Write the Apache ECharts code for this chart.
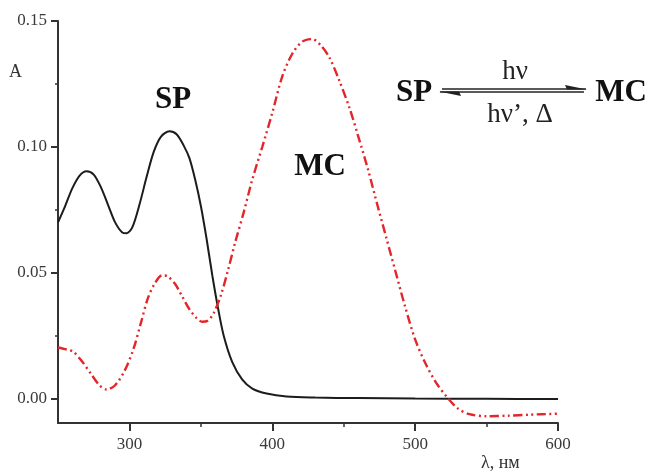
<!DOCTYPE html>
<html>
	<head>
		<meta charset="utf-8">
		<title>SP / MC spectra</title>
		<style>
			html,body{margin:0;padding:0;background:#fff;}
			#chart{width:651px;height:473px;}
		</style>
	</head>
	<body>
		<div id="chart"></div>
		<script src="https://cdn.jsdelivr.net/npm/echarts@6.0.0/dist/echarts.min.js" type="text/javascript" charset="utf-8"></script>
		<script type="text/javascript">
			// SP (black, solid)
			var spWave = [250,255,260,265,270,275,280,285,290,295,298,302,307,312,317,322,328,333,338,342,346,350,354,358,362,366,372,379,386,396,410,430,460,500,550,600];
			var spAbs = [0.070,0.0765,0.0835,0.0885,0.0903,0.089,0.084,0.077,0.070,0.066,0.0657,0.068,0.077,0.088,0.098,0.104,0.1062,0.105,0.1005,0.0955,0.087,0.0765,0.0635,0.049,0.036,0.025,0.0145,0.0075,0.004,0.002,0.0008,0.0004,0.0002,0.0,-0.0001,-0.0002];
			// MC (red, dash-dot-dot)
			var mcWave = [250,256,261,267,273,279,284,290,297,303,308,313,318,323,327,332,337,342,347,351,355,359,364,369,374,380,386,393,400,407,414,421,428,434,440,447,454,460,467,474,480,486,493,500,507,515,522,530,538,550,565,580,600];
			var mcAbs = [0.0203,0.0195,0.0185,0.0146,0.0099,0.0053,0.0036,0.0053,0.0115,0.020,0.030,0.040,0.046,0.049,0.0485,0.0455,0.0405,0.0355,0.032,0.0305,0.031,0.034,0.041,0.051,0.062,0.074,0.087,0.100,0.1135,0.128,0.137,0.1418,0.1428,0.1403,0.1355,0.1262,0.1155,0.1045,0.091,0.076,0.0635,0.051,0.0365,0.0235,0.0142,0.006,0.0008,-0.004,-0.0062,-0.007,-0.0068,-0.0064,-0.006];
			// tick labels
			var xLabels = [300,400,500,600];
			var xMinor = [350,450,550];
			var yLabels = [0,0.05,0.10,0.15];
			var yMinor = [0.025,0.075,0.125];

			function pairs(xs, ys){
				var out = [];
				for(var i = 0; i < xs.length; i++){
					out.push([xs[i], ys[i]]);
				}
				return out;
			}

			var serif = '"Liberation Serif", "DejaVu Serif", serif';
			var axisCol = '#333';
			var labelStyle = {color:'#3a3a3a', fontFamily:serif, fontSize:17};

			var myChart = echarts.init(document.getElementById('chart'));
			var option = {
				animation: false,
				grid: {left:58, right:93, top:21, bottom:50},
				xAxis: [{
					type: 'value',
					min: 250,
					max: 600,
					position: 'bottom',
					splitLine: {show:false},
					axisLine: {onZero:false, lineStyle:{color:axisCol, width:2}},
					axisTick: {length:8, customValues:xLabels, lineStyle:{color:axisCol, width:2}},
					axisLabel: Object.assign({margin:13, customValues:xLabels}, labelStyle)
				},{
					// minor ticks
					type: 'value',
					min: 250,
					max: 600,
					position: 'bottom',
					offset: 0,
					splitLine: {show:false},
					axisLine: {show:false, onZero:false},
					axisTick: {length:4, customValues:xMinor, lineStyle:{color:axisCol, width:1.5}},
					axisLabel: {show:false}
				}],
				yAxis: [{
					type: 'value',
					min: -0.0097,
					max: 0.15,
					position: 'left',
					splitLine: {show:false},
					axisLine: {onZero:false, lineStyle:{color:axisCol, width:2}},
					axisTick: {length:7, customValues:yLabels, lineStyle:{color:axisCol, width:2}},
					axisLabel: Object.assign({margin:11, customValues:yLabels, formatter:function(v){ return v.toFixed(2); }}, labelStyle)
				},{
					type: 'value',
					min: -0.0097,
					max: 0.15,
					position: 'left',
					offset: 0,
					splitLine: {show:false},
					axisLine: {show:false, onZero:false},
					axisTick: {length:3, customValues:yMinor, lineStyle:{color:axisCol, width:1.5}},
					axisLabel: {show:false}
				}],
				series: [{
					name: 'SP',
					type: 'line',
					data: pairs(spWave, spAbs),
					smooth: 0.3,
					symbol: 'none',
					lineStyle: {color:'#1c1c1c', width:2}
				},{
					name: 'MC',
					type: 'line',
					data: pairs(mcWave, mcAbs),
					smooth: 0.3,
					symbol: 'none',
					lineStyle: {color:'#e3262a', width:2.4, type:[9,3.5,2,3.5,2,3.5]}
				}],
				graphic: [
					{type:'text', left:9, top:63, style:{text:'A', fontFamily:serif, fontSize:18, fill:'#333'}},
					{type:'text', left:481, top:454, style:{text:'λ, нм', fontFamily:serif, fontSize:18, fill:'#333'}},
					{type:'text', x:173, y:100, style:{text:'SP', fontFamily:serif, fontSize:31, fontWeight:'bold', fill:'#111', align:'center', verticalAlign:'middle'}},
					{type:'text', x:320, y:167, style:{text:'MC', fontFamily:serif, fontSize:31, fontWeight:'bold', fill:'#111', align:'center', verticalAlign:'middle'}},
					// reaction scheme
					{type:'text', x:414, y:93, style:{text:'SP', fontFamily:serif, fontSize:31, fontWeight:'bold', fill:'#111', align:'center', verticalAlign:'middle'}},
					{type:'text', x:621, y:93, style:{text:'MC', fontFamily:serif, fontSize:31, fontWeight:'bold', fill:'#111', align:'center', verticalAlign:'middle'}},
					{type:'text', x:515, y:72, style:{text:'hν', fontFamily:serif, fontSize:27, fill:'#222', align:'center', verticalAlign:'middle'}},
					{type:'text', x:520, y:115, style:{text:'hν’, Δ', fontFamily:serif, fontSize:27, fill:'#222', align:'center', verticalAlign:'middle'}},
					{type:'line', shape:{x1:442, y1:89, x2:586, y2:89}, style:{stroke:'#222', lineWidth:1.6}},
					{type:'polygon', shape:{points:[[587,89.5],[565,85],[567,89.5]]}, style:{fill:'#222'}},
					{type:'line', shape:{x1:440, y1:92, x2:584, y2:92}, style:{stroke:'#222', lineWidth:1.6}},
					{type:'polygon', shape:{points:[[439,91.5],[461,96],[459,91.5]]}, style:{fill:'#222'}}
				]
			};
			myChart.setOption(option);
		</script>
	</body>
</html>
